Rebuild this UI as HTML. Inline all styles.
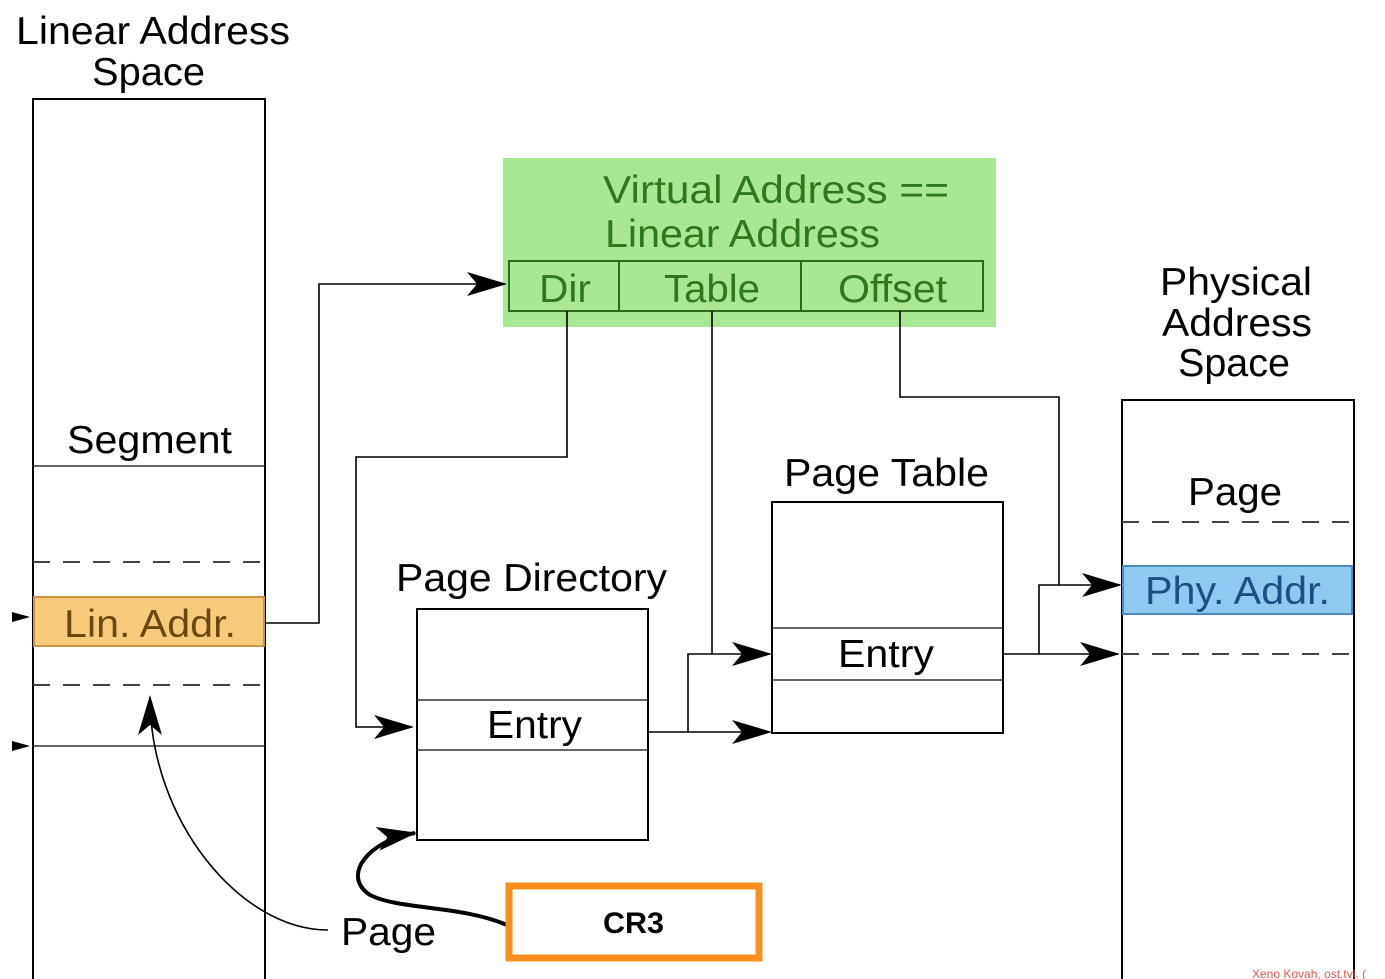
<!DOCTYPE html>
<html><head><meta charset="utf-8"><style>
html,body{margin:0;padding:0;background:#fff;}
svg{display:block;}
text{font-family:"Liberation Sans",sans-serif;}
</style></head><body>
<svg width="1385" height="979" viewBox="0 0 1385 979" xmlns="http://www.w3.org/2000/svg">
<defs>
<marker id="b" markerWidth="40" markerHeight="24" refX="38" refY="12" orient="auto" markerUnits="userSpaceOnUse" viewBox="0 0 40 24">
<path d="M0,0 L40,12 L0,24 L10,12 Z" fill="#000"/></marker>
</defs>
<g font-size="39" lengthAdjust="spacingAndGlyphs">
<!-- Linear address space -->
<text x="16" y="44" textLength="274" lengthAdjust="spacingAndGlyphs">Linear Address</text>
<text x="92" y="85" textLength="113" lengthAdjust="spacingAndGlyphs">Space</text>
<rect x="33" y="99" width="232" height="900" fill="none" stroke="#000" stroke-width="2"/>
<text x="67" y="453" textLength="165" lengthAdjust="spacingAndGlyphs">Segment</text>
<line x1="33" y1="466" x2="265" y2="466" stroke="#333" stroke-width="1.5"/>
<line x1="33" y1="562" x2="265" y2="562" stroke="#444" stroke-width="2" stroke-dasharray="17,13"/>
<rect x="34" y="597" width="230" height="49" fill="#f9c97c" stroke="#c99540" stroke-width="2"/>
<text x="64" y="637" textLength="172" lengthAdjust="spacingAndGlyphs" fill="#6b4810">Lin. Addr.</text>
<line x1="33" y1="685" x2="265" y2="685" stroke="#444" stroke-width="2" stroke-dasharray="17,13"/>
<line x1="33" y1="746" x2="265" y2="746" stroke="#333" stroke-width="1.5"/>
<path d="M12,612 L30,617 L12,622 Z" fill="#000"/>
<path d="M12,741 L30,746 L12,751 Z" fill="#000"/>
<!-- Green box -->
<rect x="503" y="158" width="493" height="169" fill="#a9e893"/>
<text x="603" y="203" textLength="346" lengthAdjust="spacingAndGlyphs" fill="#2d7a1e">Virtual Address ==</text>
<text x="605" y="247" textLength="275" lengthAdjust="spacingAndGlyphs" fill="#2d7a1e">Linear Address</text>
<rect x="509" y="261" width="474" height="50" fill="none" stroke="#2d6a1e" stroke-width="2"/>
<line x1="619" y1="261" x2="619" y2="311" stroke="#2d6a1e" stroke-width="2"/>
<line x1="801" y1="261" x2="801" y2="311" stroke="#2d6a1e" stroke-width="2"/>
<text x="539" y="302" textLength="52" lengthAdjust="spacingAndGlyphs" fill="#2d7a1e">Dir</text>
<text x="664" y="302" textLength="96" lengthAdjust="spacingAndGlyphs" fill="#2d7a1e">Table</text>
<text x="838" y="302" textLength="109" lengthAdjust="spacingAndGlyphs" fill="#2d7a1e">Offset</text>
<!-- connectors -->
<g fill="none" stroke="#000" stroke-width="1.6">
<path d="M265,623 H319 V284 H505" marker-end="url(#b)"/>
<path d="M567,311 V457 H356 V727 H412" marker-end="url(#b)"/>
<path d="M712,311 V654 H770" marker-end="url(#b)"/>
<path d="M648,732 H770" marker-end="url(#b)"/>
<path d="M688,732 V654 H712"/>
<path d="M900,311 V397 H1059 V585 H1120" marker-end="url(#b)"/>
<path d="M1003,654 H1118" marker-end="url(#b)"/>
<path d="M1039,654 V585 H1059"/>
<path d="M328,930 C240,930 150,820 150,697" marker-end="url(#b)"/>
</g>
<path d="M507,925 C460,905 400,910 370,895 C340,875 370,840 415,833" fill="none" stroke="#000" stroke-width="4" marker-end="url(#b)"/>
<!-- Page Directory -->
<text x="396" y="591" textLength="271" lengthAdjust="spacingAndGlyphs">Page Directory</text>
<rect x="417" y="609" width="231" height="231" fill="none" stroke="#000" stroke-width="2"/>
<line x1="417" y1="700" x2="648" y2="700" stroke="#333" stroke-width="1.5"/>
<line x1="417" y1="750" x2="648" y2="750" stroke="#333" stroke-width="1.5"/>
<text x="487" y="738" textLength="95" lengthAdjust="spacingAndGlyphs">Entry</text>
<!-- Page Table -->
<text x="784" y="486" textLength="205" lengthAdjust="spacingAndGlyphs">Page Table</text>
<rect x="772" y="502" width="231" height="231" fill="none" stroke="#000" stroke-width="2"/>
<line x1="772" y1="628" x2="1003" y2="628" stroke="#333" stroke-width="1.5"/>
<line x1="772" y1="680" x2="1003" y2="680" stroke="#333" stroke-width="1.5"/>
<text x="838" y="667" textLength="96" lengthAdjust="spacingAndGlyphs">Entry</text>
<!-- Physical -->
<text x="1160" y="295" textLength="152" lengthAdjust="spacingAndGlyphs">Physical</text>
<text x="1162" y="336" textLength="150" lengthAdjust="spacingAndGlyphs">Address</text>
<text x="1178" y="376" textLength="112" lengthAdjust="spacingAndGlyphs">Space</text>
<rect x="1122" y="400" width="232" height="600" fill="none" stroke="#000" stroke-width="2"/>
<text x="1188" y="505" textLength="94" lengthAdjust="spacingAndGlyphs">Page</text>
<line x1="1122" y1="522" x2="1354" y2="522" stroke="#444" stroke-width="2" stroke-dasharray="17,13"/>
<rect x="1123" y="566" width="229" height="48" fill="#8ec9f2" stroke="#4a8ac0" stroke-width="2"/>
<text x="1145" y="604" textLength="185" lengthAdjust="spacingAndGlyphs" fill="#1c4f85">Phy. Addr.</text>
<line x1="1122" y1="654" x2="1354" y2="654" stroke="#444" stroke-width="2" stroke-dasharray="17,13"/>
<!-- CR3 -->
<rect x="509" y="886" width="250" height="72" fill="#fff" stroke="#f7901e" stroke-width="7"/>
<text x="603" y="933" font-size="30" font-weight="bold" textLength="61" lengthAdjust="spacingAndGlyphs">CR3</text>
<text x="341" y="945" textLength="95" lengthAdjust="spacingAndGlyphs">Page</text>
<text x="1252" y="978" font-size="12" fill="#f05050">Xeno Kovah, ost.tvl. (</text>
</g>
</svg>
</body></html>
